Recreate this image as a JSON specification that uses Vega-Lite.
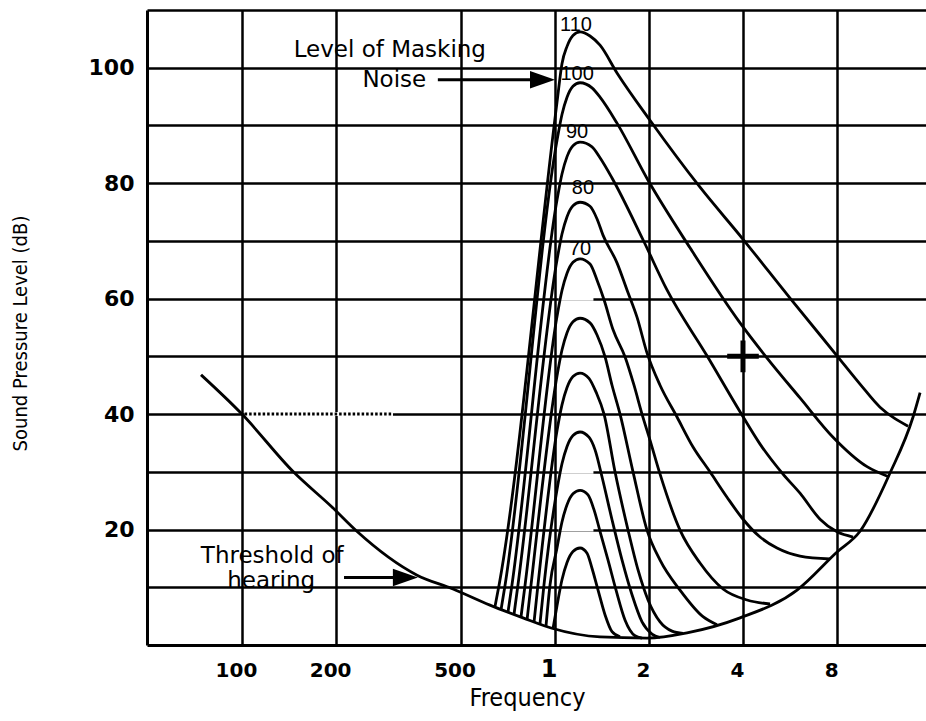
{
  "$schema": "https://vega.github.io/schema/vega-lite/v6.json",
  "width": 779,
  "height": 635,
  "autosize": {"type": "none"},
  "padding": {"left": 147, "top": 10, "right": 0, "bottom": 76},
  "background": "white",
  "config": {"view": {"stroke": null}},
  "datasets": {
    "curves": [
      {"c": "thr", "f": 74, "db": 46.8}, {"c": "thr", "f": 100, "db": 40}, {"c": "thr", "f": 146, "db": 30}, {"c": "thr", "f": 194, "db": 23.9}, {"c": "thr", "f": 233, "db": 19.7}, {"c": "thr", "f": 363, "db": 12.1}, {"c": "thr", "f": 473, "db": 9.7}, {"c": "thr", "f": 621, "db": 6.9}, {"c": "thr", "f": 792, "db": 4.7}, {"c": "thr", "f": 980, "db": 2.9}, {"c": "thr", "f": 1396, "db": 1.4}, {"c": "thr", "f": 1973, "db": 1.2}, {"c": "thr", "f": 2649, "db": 2.1}, {"c": "thr", "f": 3914, "db": 4.7}, {"c": "thr", "f": 5956, "db": 9.5}, {"c": "thr", "f": 7993, "db": 16.1}, {"c": "thr", "f": 9470, "db": 19.7}, {"c": "thr", "f": 11810, "db": 29.8}, {"c": "thr", "f": 13990, "db": 39.5}, {"c": "thr", "f": 14730, "db": 43.7},

      {"c": "110", "f": 644, "db": 6.6}, {"c": "110", "f": 664, "db": 10.4}, {"c": "110", "f": 1017, "db": 94}, {"c": "110", "f": 1055, "db": 100.7}, {"c": "110", "f": 1095, "db": 103.7}, {"c": "110", "f": 1144, "db": 105.6}, {"c": "110", "f": 1205, "db": 106.2}, {"c": "110", "f": 1297, "db": 105.5}, {"c": "110", "f": 1396, "db": 103.9}, {"c": "110", "f": 1582, "db": 99.1}, {"c": "110", "f": 2017, "db": 90.9}, {"c": "110", "f": 2915, "db": 79.3}, {"c": "110", "f": 3972, "db": 70.5}, {"c": "110", "f": 5655, "db": 60.1}, {"c": "110", "f": 7994, "db": 50.1}, {"c": "110", "f": 9470, "db": 45.2}, {"c": "110", "f": 10970, "db": 41.2}, {"c": "110", "f": 12250, "db": 39.2}, {"c": "110", "f": 13490, "db": 37.9},

      {"c": "100", "f": 674, "db": 6.2}, {"c": "100", "f": 694, "db": 10.4}, {"c": "100", "f": 1017, "db": 87.4}, {"c": "100", "f": 1055, "db": 91.9}, {"c": "100", "f": 1095, "db": 94.9}, {"c": "100", "f": 1144, "db": 96.8}, {"c": "100", "f": 1205, "db": 97.4}, {"c": "100", "f": 1316, "db": 96.5}, {"c": "100", "f": 1396, "db": 94.9}, {"c": "100", "f": 1582, "db": 90.4}, {"c": "100", "f": 1988, "db": 80.5}, {"c": "100", "f": 2708, "db": 68.8}, {"c": "100", "f": 3914, "db": 55.8}, {"c": "100", "f": 4776, "db": 49.7}, {"c": "100", "f": 6087, "db": 42.8}, {"c": "100", "f": 7762, "db": 36.0}, {"c": "100", "f": 9970, "db": 30.9}, {"c": "100", "f": 11640, "db": 29.2},

      {"c": "90", "f": 709, "db": 5.7}, {"c": "90", "f": 730, "db": 10.4}, {"c": "90", "f": 1017, "db": 77.1}, {"c": "90", "f": 1055, "db": 81.6}, {"c": "90", "f": 1095, "db": 84.6}, {"c": "90", "f": 1144, "db": 86.5}, {"c": "90", "f": 1205, "db": 87.1}, {"c": "90", "f": 1316, "db": 86.3}, {"c": "90", "f": 1396, "db": 84.4}, {"c": "90", "f": 1525, "db": 80.9}, {"c": "90", "f": 1916, "db": 70.2}, {"c": "90", "f": 2286, "db": 61.5}, {"c": "90", "f": 3069, "db": 50.1}, {"c": "90", "f": 3914, "db": 40.4}, {"c": "90", "f": 4536, "db": 34.8}, {"c": "90", "f": 5371, "db": 29.6}, {"c": "90", "f": 6087, "db": 26.3}, {"c": "90", "f": 7053, "db": 21.8}, {"c": "90", "f": 7994, "db": 19.6}, {"c": "90", "f": 8995, "db": 18.7},

      {"c": "80", "f": 741, "db": 5.3}, {"c": "80", "f": 763, "db": 10.4}, {"c": "80", "f": 1017, "db": 66.7}, {"c": "80", "f": 1055, "db": 71.2}, {"c": "80", "f": 1095, "db": 74.2}, {"c": "80", "f": 1144, "db": 76.1}, {"c": "80", "f": 1205, "db": 76.7}, {"c": "80", "f": 1297, "db": 76.0}, {"c": "80", "f": 1366, "db": 73.8}, {"c": "80", "f": 1427, "db": 71.0}, {"c": "80", "f": 1582, "db": 66.2}, {"c": "80", "f": 1703, "db": 61.5}, {"c": "80", "f": 1833, "db": 56.8}, {"c": "80", "f": 1973, "db": 50.6}, {"c": "80", "f": 2172, "db": 45.0}, {"c": "80", "f": 2461, "db": 39.5}, {"c": "80", "f": 2769, "db": 34.3}, {"c": "80", "f": 3137, "db": 30.0}, {"c": "80", "f": 3556, "db": 25.6}, {"c": "80", "f": 3972, "db": 22.0}, {"c": "80", "f": 4536, "db": 18.7}, {"c": "80", "f": 5139, "db": 16.8}, {"c": "80", "f": 6087, "db": 15.4}, {"c": "80", "f": 7594, "db": 14.9},

      {"c": "70", "f": 780, "db": 4.8}, {"c": "70", "f": 804, "db": 10.4}, {"c": "70", "f": 1017, "db": 56.9}, {"c": "70", "f": 1055, "db": 61.4}, {"c": "70", "f": 1095, "db": 64.4}, {"c": "70", "f": 1144, "db": 66.3}, {"c": "70", "f": 1205, "db": 66.9}, {"c": "70", "f": 1297, "db": 66.0}, {"c": "70", "f": 1366, "db": 63.2}, {"c": "70", "f": 1438, "db": 59.8}, {"c": "70", "f": 1537, "db": 54.6}, {"c": "70", "f": 1679, "db": 49.9}, {"c": "70", "f": 1793, "db": 45.0}, {"c": "70", "f": 1902, "db": 40.0}, {"c": "70", "f": 2017, "db": 35.5}, {"c": "70", "f": 2172, "db": 29.6}, {"c": "70", "f": 2516, "db": 19.9}, {"c": "70", "f": 2915, "db": 14.2}, {"c": "70", "f": 3453, "db": 9.7}, {"c": "70", "f": 4121, "db": 7.8}, {"c": "70", "f": 4882, "db": 7.1},

      {"c": "60", "f": 816, "db": 4.4}, {"c": "60", "f": 840, "db": 10.4}, {"c": "60", "f": 1017, "db": 46.6}, {"c": "60", "f": 1055, "db": 51.1}, {"c": "60", "f": 1095, "db": 54.1}, {"c": "60", "f": 1144, "db": 56.0}, {"c": "60", "f": 1205, "db": 56.6}, {"c": "60", "f": 1297, "db": 55.8}, {"c": "60", "f": 1366, "db": 53.7}, {"c": "60", "f": 1449, "db": 49.9}, {"c": "60", "f": 1525, "db": 45.0}, {"c": "60", "f": 1618, "db": 40.0}, {"c": "60", "f": 1780, "db": 30.0}, {"c": "60", "f": 1973, "db": 19.9}, {"c": "60", "f": 2172, "db": 14.7}, {"c": "60", "f": 2516, "db": 9.5}, {"c": "60", "f": 2980, "db": 4.9}, {"c": "60", "f": 3304, "db": 3.5},

      {"c": "50", "f": 859, "db": 4.0}, {"c": "50", "f": 884, "db": 10.4}, {"c": "50", "f": 1017, "db": 37.1}, {"c": "50", "f": 1055, "db": 41.6}, {"c": "50", "f": 1095, "db": 44.6}, {"c": "50", "f": 1144, "db": 46.5}, {"c": "50", "f": 1205, "db": 47.1}, {"c": "50", "f": 1287, "db": 46.2}, {"c": "50", "f": 1356, "db": 43.8}, {"c": "50", "f": 1438, "db": 40.0}, {"c": "50", "f": 1559, "db": 30.0}, {"c": "50", "f": 1716, "db": 19.9}, {"c": "50", "f": 1847, "db": 13.0}, {"c": "50", "f": 1988, "db": 7.8}, {"c": "50", "f": 2172, "db": 4.0}, {"c": "50", "f": 2372, "db": 2.4}, {"c": "50", "f": 2572, "db": 2.0},

      {"c": "40", "f": 897, "db": 3.6}, {"c": "40", "f": 924, "db": 10.4}, {"c": "40", "f": 1017, "db": 26.9}, {"c": "40", "f": 1055, "db": 31.4}, {"c": "40", "f": 1095, "db": 34.4}, {"c": "40", "f": 1144, "db": 36.3}, {"c": "40", "f": 1205, "db": 36.9}, {"c": "40", "f": 1287, "db": 36.0}, {"c": "40", "f": 1346, "db": 33.8}, {"c": "40", "f": 1417, "db": 29.1}, {"c": "40", "f": 1525, "db": 21.7}, {"c": "40", "f": 1642, "db": 14.7}, {"c": "40", "f": 1767, "db": 8.7}, {"c": "40", "f": 1902, "db": 4.0}, {"c": "40", "f": 2047, "db": 1.9}, {"c": "40", "f": 2172, "db": 1.3},

      {"c": "30", "f": 938, "db": 3.3}, {"c": "30", "f": 966, "db": 10.4}, {"c": "30", "f": 1017, "db": 16.8}, {"c": "30", "f": 1055, "db": 21.3}, {"c": "30", "f": 1095, "db": 24.3}, {"c": "30", "f": 1144, "db": 26.2}, {"c": "30", "f": 1205, "db": 26.8}, {"c": "30", "f": 1278, "db": 26.0}, {"c": "30", "f": 1336, "db": 23.4}, {"c": "30", "f": 1396, "db": 19.7}, {"c": "30", "f": 1481, "db": 14.7}, {"c": "30", "f": 1571, "db": 9.5}, {"c": "30", "f": 1679, "db": 4.3}, {"c": "30", "f": 1806, "db": 1.6}, {"c": "30", "f": 1902, "db": 1.2},

      {"c": "20", "f": 988, "db": 2.9}, {"c": "20", "f": 1017, "db": 6.8}, {"c": "20", "f": 1055, "db": 11.3}, {"c": "20", "f": 1095, "db": 14.3}, {"c": "20", "f": 1144, "db": 16.2}, {"c": "20", "f": 1205, "db": 16.8}, {"c": "20", "f": 1269, "db": 15.9}, {"c": "20", "f": 1316, "db": 13.3}, {"c": "20", "f": 1376, "db": 9.5}, {"c": "20", "f": 1449, "db": 5.2}, {"c": "20", "f": 1525, "db": 2.3}, {"c": "20", "f": 1618, "db": 1.4}
    ],
    "masks": [
      {"f": 1030, "f2": 1330, "db": 60},
      {"f": 1030, "f2": 1330, "db": 30},
      {"f": 1030, "f2": 1330, "db": 20},
      {"f": 102, "f2": 304, "db": 40}
    ],
    "dotted": [{"f": 102, "f2": 304, "db": 40}],
    "shafts": [
      {"f": 423, "f2": 880, "db": 97.9},
      {"f": 212, "f2": 320, "db": 11.7}
    ],
    "heads": [
      {"f": 914, "db": 97.9},
      {"f": 333, "db": 11.7}
    ],
    "cross": [{"f": 4000, "db": 50}],
    "notes": [
      {"t": "Level of Masking", "f": 297, "db": 101.9},
      {"t": "Noise", "f": 307, "db": 96.6},
      {"t": "Threshold of", "f": 125, "db": 14.2},
      {"t": "hearing", "f": 124, "db": 9.9}
    ],
    "peaks": [
      {"t": "110", "f": 1170, "db": 106.4},
      {"t": "100", "f": 1179, "db": 97.9},
      {"t": "90", "f": 1179, "db": 87.8},
      {"t": "80", "f": 1231, "db": 78.2},
      {"t": "70", "f": 1205, "db": 67.6}
    ]
  },
  "encoding": {
    "x": {
      "field": "f", "type": "quantitative",
      "scale": {"type": "log", "domain": [49.7, 15390], "nice": false},
      "axis": {
        "values": [100, 200, 500, 1000, 2000, 4000, 8000],
        "labelExpr": "datum.value >= 1000 ? format(datum.value / 1000, 'd') : format(datum.value, 'd')",
        "grid": true, "gridColor": "#000", "gridWidth": 2.5, "gridOpacity": 1,
        "domain": true, "domainColor": "#000", "domainWidth": 3,
        "ticks": false, "tickSize": 0,
        "labelFont": "DejaVu Sans", "labelFontWeight": "bold",
        "labelFontSize": {"condition": {"test": "datum.value == 1000", "value": 24}, "value": 20},
        "labelColor": "#000", "labelBaseline": "alphabetic", "labelPadding": 31, "labelOffset": -6,
        "labelFlush": false, "labelOverlap": false,
        "title": "Frequency",
        "titleFont": "DejaVu Sans Condensed, sans-serif",
        "titleFontSize": 25, "titleFontWeight": "normal", "titleColor": "#000",
        "titleX": 380, "titleY": 52, "titleBaseline": "middle", "titleAlign": "center"
      }
    },
    "y": {
      "field": "db", "type": "quantitative",
      "scale": {"domain": [0, 110], "nice": false, "zero": false},
      "axis": {
        "values": [10, 20, 30, 40, 50, 60, 70, 80, 90, 100, 110],
        "labelExpr": "datum.value % 20 == 0 && datum.value <= 100 ? datum.label : ''",
        "grid": true, "gridColor": "#000", "gridWidth": 2.5, "gridOpacity": 1,
        "domain": true, "domainColor": "#000", "domainWidth": 3,
        "ticks": false, "tickSize": 0,
        "labelFont": "DejaVu Sans", "labelFontWeight": "bold", "labelFontSize": 22,
        "labelColor": "#000", "labelPadding": 13,
        "title": "Sound Pressure Level (dB)",
        "titleFont": "DejaVu Sans Condensed, sans-serif",
        "titleFontSize": 20, "titleFontWeight": "normal", "titleColor": "#000",
        "titleX": -127, "titleY": 323, "titleAngle": 270, "titleBaseline": "middle", "titleAlign": "center"
      }
    }
  },
  "layer": [
    {
      "data": {"name": "masks"},
      "mark": {"type": "rule", "color": "white", "strokeWidth": 4},
      "encoding": {"x2": {"field": "f2"}}
    },
    {
      "data": {"name": "dotted"},
      "mark": {"type": "rule", "color": "#000", "strokeWidth": 3, "strokeDash": [2.5, 2]},
      "encoding": {"x2": {"field": "f2"}}
    },
    {
      "data": {"name": "curves"},
      "mark": {"type": "line", "color": "#000", "strokeWidth": 2.8, "interpolate": "monotone"},
      "encoding": {"detail": {"field": "c"}}
    },
    {
      "data": {"name": "shafts"},
      "mark": {"type": "rule", "color": "#000", "strokeWidth": 3},
      "encoding": {"x2": {"field": "f2"}}
    },
    {
      "data": {"name": "heads"},
      "mark": {"type": "point", "shape": "M-1,-0.7L1,0L-1,0.7Z", "filled": true, "color": "#000", "size": 625, "opacity": 1},
      "encoding": {}
    },
    {
      "data": {"name": "cross"},
      "mark": {"type": "point", "shape": "M-1,0L1,0M0,-1L0,1", "filled": false, "color": "#000", "strokeWidth": 5, "size": 1000, "opacity": 1},
      "encoding": {}
    },
    {
      "data": {"name": "notes"},
      "mark": {"type": "text", "font": "DejaVu Sans", "fontSize": 23, "align": "center", "baseline": "alphabetic", "color": "#000"},
      "encoding": {"text": {"field": "t"}}
    },
    {
      "data": {"name": "peaks"},
      "mark": {"type": "text", "font": "Liberation Sans", "fontSize": 20, "align": "center", "baseline": "alphabetic", "color": "#000"},
      "encoding": {"text": {"field": "t"}}
    }
  ]
}
